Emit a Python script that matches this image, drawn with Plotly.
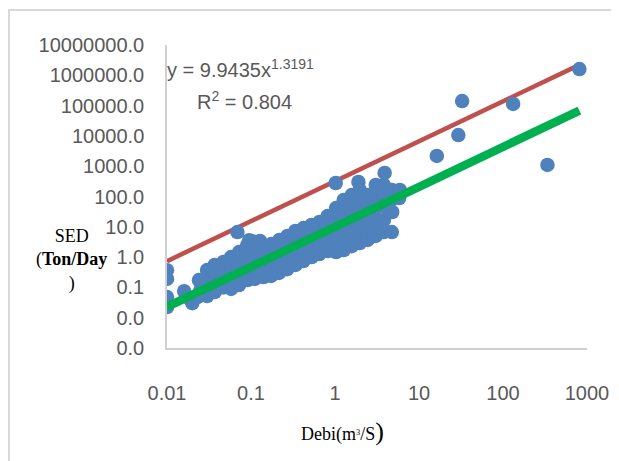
import plotly.graph_objects as go

# ---- data ----
debi = [
    0.010, 0.010, 0.010, 0.010,
    0.016, 0.018, 0.020,
    0.024, 0.025, 0.023,
    0.030, 0.031, 0.029, 0.030,
    0.037, 0.038, 0.036, 0.037,
    0.047, 0.046, 0.048, 0.047,
    0.058, 0.060, 0.057, 0.059, 0.058,
    0.069,
    0.072, 0.074, 0.071, 0.073, 0.072,
    0.090, 0.088, 0.092, 0.089, 0.091, 0.095,
    0.112, 0.115, 0.110, 0.113, 0.111, 0.105,
    0.140, 0.137, 0.143, 0.139, 0.141, 0.128,
    0.175, 0.178, 0.172, 0.176, 0.174,
    0.218, 0.214, 0.222, 0.219, 0.216,
    0.272, 0.276, 0.268, 0.273, 0.270,
    0.338, 0.332, 0.344, 0.336, 0.340,
    0.422, 0.428, 0.416, 0.424, 0.420,
    0.525, 0.518, 0.532, 0.522, 0.528,
    0.655, 0.664, 0.646, 0.658, 0.650,
    0.816, 0.805, 0.826, 0.812, 0.820,
    1.02, 1.03, 1.00, 1.04, 1.01, 1.02, 1.03,
    1.27, 1.29, 1.25, 1.28, 1.26, 1.27,
    1.58, 1.60, 1.56, 1.59, 1.57, 1.58,
    1.90,
    1.97, 2.00, 1.95, 1.98, 1.96, 1.97,
    2.45, 2.48, 2.42, 2.46, 2.44, 2.45,
    3.06, 3.10, 3.02, 3.07, 3.04, 3.06,
    3.81, 3.85, 3.78, 3.82, 3.80,
    3.90,
    4.75, 4.70, 4.80, 4.75,
    5.91, 5.80,
    16.3, 29.4, 32.6, 132.0, 338.0, 812.0,
]
sed = [
    0.37, 0.19, 0.048, 0.0225,
    0.075, 0.045, 0.030,
    0.175, 0.082, 0.048,
    0.375, 0.175, 0.082, 0.052,
    0.55, 0.28, 0.14, 0.07,
    0.69, 0.375, 0.20, 0.10,
    1.0, 0.55, 0.30, 0.16, 0.089,
    6.7,
    1.47, 0.80, 0.44, 0.24, 0.12,
    2.5, 1.36, 0.69, 0.375, 0.175, 3.6,
    2.15, 1.09, 0.59, 0.32, 0.19, 3.3,
    2.5, 1.26, 0.69, 0.375, 0.22, 3.4,
    2.7, 1.47, 0.74, 0.40, 0.24,
    3.7, 1.85, 1.0, 0.55, 0.30,
    5.0, 2.5, 1.36, 0.74, 0.40,
    7.3, 3.7, 2.0, 1.09, 0.55,
    9.1, 5.0, 2.7, 1.47, 0.74,
    11.5, 6.2, 3.4, 1.85, 1.0,
    14.4, 7.8, 4.3, 2.3, 1.26,
    22.7, 11.5, 5.8, 3.15, 1.59,
    279.0, 41.7, 21.0, 10.6, 5.4, 2.7, 1.47,
    77.0, 36.0, 16.7, 7.8, 3.7, 1.71,
    112.0, 52.0, 24.5, 11.5, 5.4, 2.3,
    301.0,
    164.0, 77.0, 36.0, 16.7, 6.7, 2.9,
    112.0, 52.0, 24.5, 11.5, 5.4, 3.7,
    240.0, 112.0, 45.0, 19.5, 9.1, 5.0,
    240.0, 112.0, 48.5, 16.7, 6.7,
    600.0,
    164.0, 77.0, 30.8, 6.7,
    164.0, 89.0,
    2180.0, 10700.0, 141000.0, 113000.0, 1100.0, 1600000.0,
]

# power trend line shown on the chart, and the upper envelope line
trend_coef = 9.9435
trend_exp = 1.3191
upper_coef = 320.0
r_squared = 0.804

x_tick_vals = [0.01, 0.1, 1, 10, 100, 1000]
x_tick_text = ["0.01", "0.1", "1", "10", "100", "1000"]
y_tick_vals = [0.001, 0.01, 0.1, 1, 10, 100, 1000, 10000, 100000, 1000000, 10000000]
y_tick_text = ["0.0", "0.0", "0.1", "1.0", "10.0", "100.0", "1000.0", "10000.0",
               "100000.0", "1000000.0", "10000000.0"]

# ---- figure (page body adds an 8px offset, so geometry is shifted by 8) ----
OFF = 8
L, T, PW, PH = 167 - OFF, 45 - OFF, 420, 303
W, H = 619 - OFF, 461 - OFF


def px(xp):
    return (xp - OFF - L) / PW


def py(yp):
    return (T + PH - (yp - OFF)) / PH


x_line = [min(debi), max(debi)]
trend_y = [trend_coef * v ** trend_exp for v in x_line]
upper_y = [upper_coef * v ** trend_exp for v in x_line]

fig = go.Figure()
fig.add_trace(go.Scatter(x=x_line, y=upper_y, mode="lines",
                         line=dict(color="#C0504D", width=4.5), hoverinfo="skip"))
fig.add_trace(go.Scatter(x=debi, y=sed, mode="markers",
                         marker=dict(color="#4F81BD", size=14.5, line=dict(width=0))))
fig.add_trace(go.Scatter(x=x_line, y=trend_y, mode="lines",
                         line=dict(color="#00B050", width=8.5), hoverinfo="skip"))

gray = "#595959"
fig.update_layout(
    width=W, height=H,
    margin=dict(l=L, r=W - L - PW, t=T, b=H - T - PH, autoexpand=False),
    paper_bgcolor="white", plot_bgcolor="white",
    showlegend=False,
    font=dict(family="Liberation Sans, Arial, sans-serif", color=gray),
    xaxis=dict(type="log", range=[-2, 3], tickvals=x_tick_vals, ticktext=x_tick_text,
               showgrid=False, zeroline=False, showline=True, linecolor="#D0D0D0",
               linewidth=1.5, ticks="", ticklabelstandoff=26, automargin=False,
               tickfont=dict(size=20, color=gray)),
    yaxis=dict(type="log", range=[-3, 7], tickvals=y_tick_vals, ticktext=y_tick_text,
               showgrid=False, zeroline=False, showline=True, linecolor="#D0D0D0",
               linewidth=1.5, ticks="", ticklabelstandoff=17, automargin=False,
               tickfont=dict(size=20, color=gray)),
)

# equation annotations
fig.add_annotation(xref="paper", yref="paper", x=px(165), y=py(68),
                   xanchor="left", yanchor="middle", showarrow=False,
                   text=f"y = {trend_coef}x<sup>{trend_exp}</sup>",
                   font=dict(size=20, color=gray, family="Liberation Sans, Arial"))
fig.add_annotation(xref="paper", yref="paper", x=px(244), y=py(100),
                   xanchor="center", yanchor="middle", showarrow=False,
                   text=f"R<sup>2</sup> = {r_squared}",
                   font=dict(size=20, color=gray, family="Liberation Sans, Arial"))

# axis titles
fig.add_annotation(xref="paper", yref="paper", x=px(71), y=py(260),
                   xanchor="center", yanchor="middle", showarrow=False, align="center",
                   text="SED<br>(<b>Ton/Day</b><br>)",
                   font=dict(size=18, color="black", family="Liberation Serif, Times New Roman, serif"))
fig.add_annotation(xref="paper", yref="paper", x=px(342), y=py(431),
                   xanchor="center", yanchor="middle", showarrow=False,
                   text="Debi(m<span style='font-size:12px'><sup>3</sup></span>/S<span style='font-size:26px'>)</span>",
                   font=dict(size=18, color="black", family="Liberation Serif, Times New Roman, serif"))

# outer chart border
fig.add_shape(type="rect", xref="paper", yref="paper",
              x0=px(9), y0=py(480), x1=px(640), y1=py(10),
              line=dict(color="#D9D9D9", width=2), layer="below")

fig.write_html("out.html")
